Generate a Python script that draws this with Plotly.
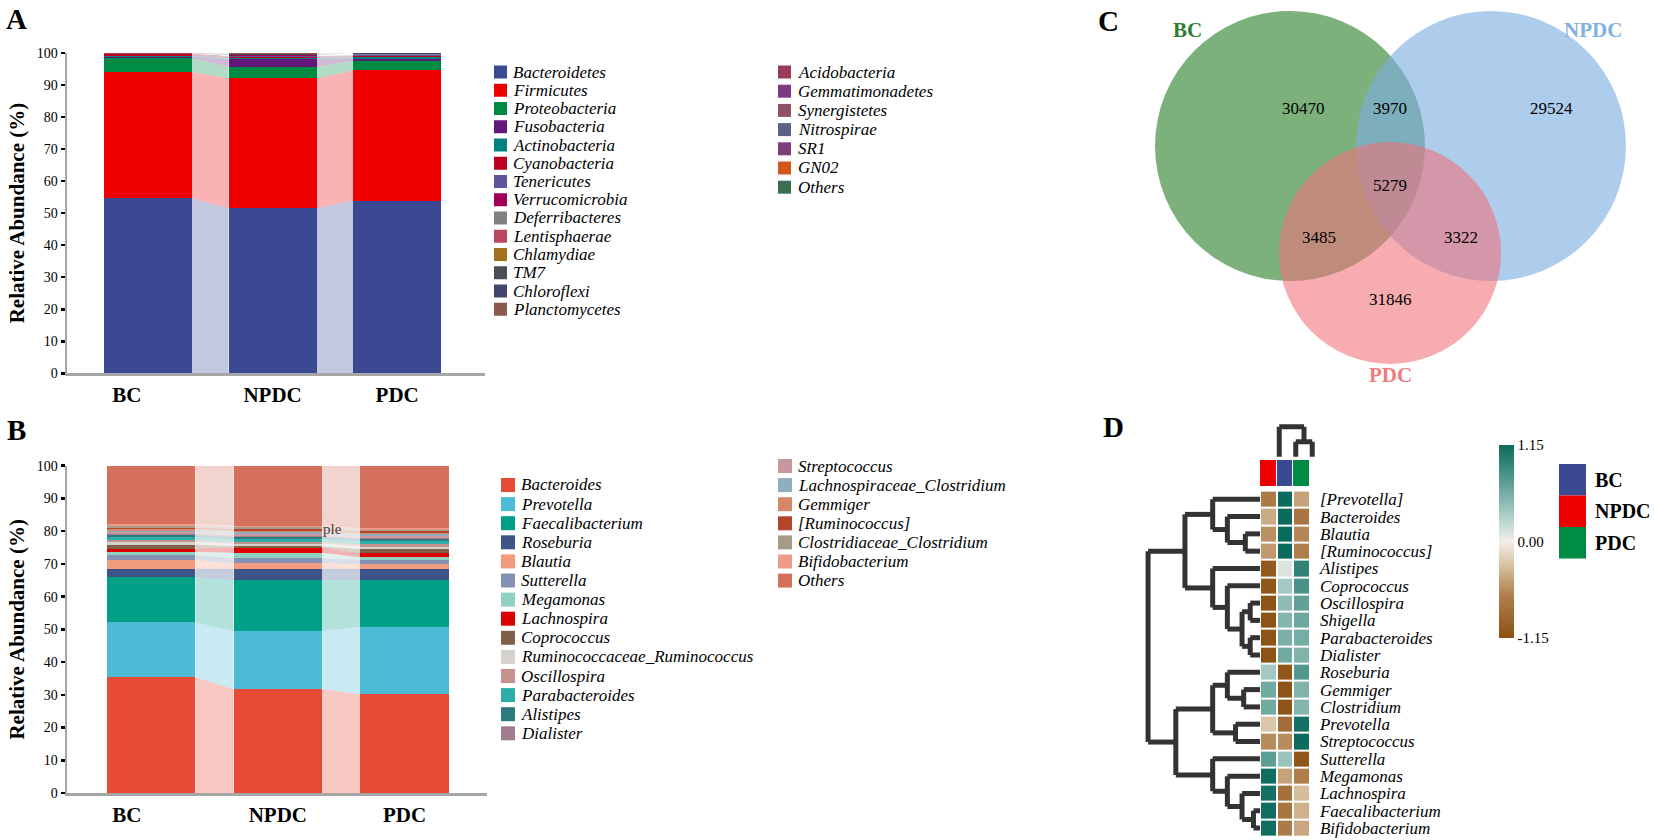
import plotly.graph_objects as go

W, H = 1654, 840
FONT = "Liberation Serif"

groups = ["BC", "NPDC", "PDC"]

# ---------------- Panel A : phylum level ----------------
phyla = ["Bacteroidetes", "Firmicutes", "Proteobacteria", "Fusobacteria", "Actinobacteria",
         "Cyanobacteria", "Tenericutes", "Verrucomicrobia", "Deferribacteres", "Lentisphaerae",
         "Chlamydiae", "TM7", "Chloroflexi", "Planctomycetes", "Acidobacteria",
         "Gemmatimonadetes", "Synergistetes", "Nitrospirae", "SR1", "GN02", "Others"]
phylum_colors = ["#3B4992", "#EE0000", "#008B45", "#631879", "#008280",
                 "#BB0021", "#5F559B", "#A20056", "#808180", "#B9475F",
                 "#A2711E", "#4A4F55", "#42466E", "#8B5A4A", "#9A3B55",
                 "#7C3A80", "#8F5266", "#5C6188", "#7B3F7C", "#D0561E", "#3C6E50"]
phylum_bc = [54.6, 39.4, 4.3, 0.5, 0.3, 0.4, 0.1, 0.1, 0.05, 0.02, 0.02, 0.05, 0.02, 0.02,
             0.02, 0.01, 0.01, 0.01, 0.01, 0.01, 0.05]
phylum_npdc = [51.6, 40.4, 3.6, 2.4, 0.4, 0.3, 0.3, 0.2, 0.1, 0.05, 0.05, 0.3, 0.05, 0.05,
               0.03, 0.02, 0.02, 0.02, 0.02, 0.01, 0.03]
phylum_pdc = [53.9, 40.6, 3.0, 0.7, 0.4, 0.3, 0.3, 0.2, 0.1, 0.05, 0.05, 0.15, 0.05, 0.05,
              0.03, 0.02, 0.02, 0.02, 0.02, 0.01, 0.03]

# ---------------- Panel B : genus level ----------------
genera = ["Bacteroides", "Prevotella", "Faecalibacterium", "Roseburia", "Blautia", "Sutterella",
          "Megamonas", "Lachnospira", "Coprococcus", "Ruminococcaceae_Ruminococcus",
          "Oscillospira", "Parabacteroides", "Alistipes", "Dialister", "Streptococcus",
          "Lachnospiraceae_Clostridium", "Gemmiger", "[Ruminococcus]",
          "Clostridiaceae_Clostridium", "Bifidobacterium", "Others"]
genus_colors = ["#E64B35", "#4DBBD5", "#00A087", "#3C5488", "#F39B7F", "#8491B4",
                "#91D1C2", "#DC0000", "#7E6148", "#D6D2CE", "#C4928C", "#2EADA8",
                "#2D7A80", "#A07C8C", "#C9979E", "#8FAFC1", "#D5886A", "#B3452C",
                "#A89A8A", "#EE9A88", "#D4705C"]
genus_bc = [35.4, 16.7, 13.8, 2.6, 2.7, 1.5, 1.0, 1.0, 1.2, 0.8, 0.5, 1.0, 0.5, 0.4,
            0.5, 0.6, 0.5, 0.4, 0.6, 0.5, 17.8]
genus_npdc = [31.8, 17.7, 15.6, 3.4, 1.7, 1.5, 1.7, 1.6, 0.4, 0.8, 0.5, 1.0, 0.5, 0.4,
              0.5, 0.6, 0.5, 0.4, 0.6, 0.5, 18.3]
genus_pdc = [30.2, 20.6, 14.3, 3.4, 1.5, 1.3, 0.7, 1.2, 1.3, 0.8, 0.7, 1.0, 0.5, 0.4,
             0.5, 0.6, 0.5, 0.4, 0.6, 0.5, 19.0]

# ---------------- Panel C : Venn counts ----------------
venn_sets = ["BC", "NPDC", "PDC"]
venn_set_colors = ["#2F7D32", "#7FB2E0", "#F07C7C"]
venn_regions = ["BC", "BC&NPDC", "NPDC", "BC&NPDC&PDC", "BC&PDC", "NPDC&PDC", "PDC"]
venn_counts = [30470, 3970, 29524, 5279, 3485, 3322, 31846]

# ---------------- Panel D : heatmap ----------------
heat_cols = ["NPDC", "BC", "PDC"]
heat_rows = ["[Prevotella]", "Bacteroides", "Blautia", "[Ruminococcus]", "Alistipes",
             "Coprococcus", "Oscillospira", "Shigella", "Parabacteroides", "Dialister",
             "Roseburia", "Gemmiger", "Clostridium", "Prevotella", "Streptococcus",
             "Sutterella", "Megamonas", "Lachnospira", "Faecalibacterium", "Bifidobacterium"]
heat_npdc = [-0.70, -0.40, -0.55, -0.50, -1.05, -1.10, -1.12, -1.12, -1.12, -1.12,
             0.35, 0.60, 0.60, -0.25, -0.58, 0.70, 1.12, 1.10, 1.12, 1.12]
heat_bc = [1.15, 1.15, 1.15, 1.15, 0.10, 0.35, 0.45, 0.50, 0.55, 0.60,
           -1.10, -1.12, -1.12, -0.85, -0.57, 0.40, -0.45, -0.80, -0.75, -0.70]
heat_pdc = [-0.45, -0.75, -0.60, -0.65, 0.95, 0.80, 0.67, 0.62, 0.57, 0.52,
            0.75, 0.52, 0.50, 1.10, 1.15, -1.10, -0.65, -0.30, -0.37, -0.42]
# row dendrogram merges (leaf ids 0..19, new cluster ids from 20), heights
row_merges = [(2, 3, 45), (1, 20, 100), (0, 21, 145), (6, 7, 30), (8, 9, 30), (23, 24, 55),
              (5, 25, 100), (4, 26, 145), (22, 27, 230), (11, 12, 50), (10, 29, 100),
              (13, 14, 75), (30, 31, 145), (18, 19, 20), (17, 33, 55), (16, 34, 100),
              (15, 35, 145), (32, 36, 258), (28, 37, 343)]
col_merges = [(1, 2, 15), (0, 3, 30)]
heat_col_colors = ["#EE0000", "#3B4992", "#008B45"]
legend_d_names = ["BC", "NPDC", "PDC"]
legend_d_colors = ["#3B4992", "#EE0000", "#008B45"]


def px(x):
    return x / W


def py(y):
    return 1 - y / H


def rgba(hexc, a):
    h = hexc.lstrip("#")
    r, g, b = int(h[0:2], 16), int(h[2:4], 16), int(h[4:6], 16)
    return f"rgba({r},{g},{b},{a})"


fig = go.Figure()
annotations = []
shapes = []


def ann(x, y, text, size, color="black", xanchor="center", yanchor="middle", **kw):
    annotations.append(dict(x=x, y=y, xref=kw.pop("xref", "paper"), yref=kw.pop("yref", "paper"),
                            text=text, showarrow=False, xanchor=xanchor, yanchor=yanchor,
                            font=dict(family=FONT, size=size, color=color), **kw))


def stacked_alluvial(names, colors, series_by_group, xa, ya, bw):
    ngrp = len(series_by_group)
    bottoms = [0.0] * ngrp
    for s, (name, col) in enumerate(zip(names, colors)):
        vals = [series_by_group[g][s] for g in range(ngrp)]
        tops = [bottoms[g] + vals[g] for g in range(ngrp)]
        xs, ys = [], []
        for g in range(ngrp - 1):
            xl, xr = g + bw / 2, g + 1 - bw / 2
            xs += [xl, xr, xr, xl, xl, None]
            ys += [bottoms[g], bottoms[g + 1], tops[g + 1], tops[g], bottoms[g], None]
        fig.add_trace(go.Scatter(x=xs, y=ys, mode="lines", fill="toself",
                                 fillcolor=rgba(col, 0.3), line=dict(width=0),
                                 hoverinfo="skip", xaxis=xa, yaxis=ya, showlegend=False))
        fig.add_trace(go.Bar(x=list(range(ngrp)), y=vals, width=bw, name=name,
                             marker=dict(color=col, line=dict(width=0)),
                             xaxis=xa, yaxis=ya, showlegend=False))
        bottoms = tops


BW_A = 0.706
BW_B = 0.698
stacked_alluvial(phyla, phylum_colors, [phylum_bc, phylum_npdc, phylum_pdc], "x", "y", BW_A)
stacked_alluvial(genera, genus_colors, [genus_bc, genus_npdc, genus_pdc], "x2", "y2", BW_B)


# ---------- custom legends (two columns) ----------
def legend_block(names, colors, split, x_sq, x_txt, y0, dy, x2_sq, x2_txt, y20, dy2, sq):
    for i, (n, c) in enumerate(zip(names, colors)):
        if i < split:
            xs, xt, yc = x_sq, x_txt, y0 + dy * i
        else:
            xs, xt, yc = x2_sq, x2_txt, y20 + dy2 * (i - split)
        shapes.append(dict(type="rect", xref="paper", yref="paper",
                           x0=px(xs), x1=px(xs + sq), y0=py(yc + sq / 2), y1=py(yc - sq / 2),
                           fillcolor=c, line=dict(width=0)))
        ann(px(xt), py(yc), f"<i>{n}</i>", 17, xanchor="left")


legend_block(phyla, phylum_colors, 14, 494, 511, 72, 18.25, 778, 796, 72, 19.2, 13)
legend_block(genera, genus_colors, 14, 501, 519, 485, 19.1, 778, 796, 466, 19.1, 14)

# ---------- axes for A and B ----------
common_x = dict(showline=True, linecolor="#A6A6A6", linewidth=2.5, ticks="outside", ticklen=1,
                tickcolor="rgba(0,0,0,0)", ticktext=[f"<b>{g}</b>" for g in groups],
                tickfont=dict(family=FONT, size=21, color="black"),
                showgrid=False, zeroline=False, automargin=False)
common_y = dict(showline=True, linecolor="#A6A6A6", linewidth=2.5, ticks="outside", ticklen=4,
                tickwidth=2.5, tickcolor="black", range=[0, 100],
                tickvals=list(range(0, 101, 10)),
                tickfont=dict(family=FONT, size=14, color="black"),
                title=dict(text="<b>Relative Abundance (%)</b>",
                           font=dict(family=FONT, size=21, color="black"), standoff=7),
                showgrid=False, zeroline=False, automargin=False)

layout_axes = dict(
    xaxis=dict(common_x, domain=[px(67), px(485)], range=[-0.65, 2.705], anchor="y",
               tickvals=[-0.17, 1, 2]),
    yaxis=dict(common_y, domain=[py(373.4), py(52.75)], anchor="x"),
    xaxis2=dict(common_x, domain=[px(67), px(487)], range=[-0.663, 2.65], anchor="y2",
                tickvals=[-0.19, 1, 2]),
    yaxis2=dict(common_y, domain=[py(793), py(465.7)], anchor="x2"),
)

# "ple" fragment visible in panel B
ann(1.43, 80.6, "ple", 15, color="#4a3b3b", xref="x2", yref="y2")

# ---------- Panel C : Venn ----------
venn_geom = {"BC": (1290, 146, 135), "NPDC": (1491, 146, 135), "PDC": (1390, 253, 111)}
venn_fill = {"BC": "rgba(62,140,62,0.68)", "NPDC": "rgba(125,175,226,0.62)",
             "PDC": "rgba(240,112,120,0.58)"}
for sname in venn_sets:
    cx, cy, r = venn_geom[sname]
    shapes.append(dict(type="circle", xref="paper", yref="paper", x0=px(cx - r), x1=px(cx + r),
                       y0=py(cy + r), y1=py(cy - r), fillcolor=venn_fill[sname],
                       line=dict(width=0), layer="below"))
venn_text_pos = {"BC": (1303, 109), "BC&NPDC": (1390, 109), "NPDC": (1551, 109),
                 "BC&NPDC&PDC": (1390, 185), "BC&PDC": (1319, 237), "NPDC&PDC": (1461, 237),
                 "PDC": (1390, 299)}
for reg, cnt in zip(venn_regions, venn_counts):
    x, y = venn_text_pos[reg]
    ann(px(x), py(y), str(cnt), 17)
venn_label_pos = {"BC": (1187, 30), "NPDC": (1593, 30), "PDC": (1390, 375)}
for sname, col in zip(venn_sets, venn_set_colors):
    x, y = venn_label_pos[sname]
    ann(px(x), py(y), f"<b>{sname}</b>", 21, color=col)

# ---------- Panel D : heatmap ----------
HM_X0, HM_X1 = 1260, 1309.5
HM_Y0, HM_Y1 = 490.6, 836.7
heat_z = [[a, b, c] for a, b, c in zip(heat_npdc, heat_bc, heat_pdc)]
fig.add_trace(go.Heatmap(
    z=heat_z, x=[0, 1, 2], y=list(range(len(heat_rows))), zmin=-1.15, zmax=1.15,
    xgap=2, ygap=2, xaxis="x4", yaxis="y4", hoverinfo="skip",
    colorscale=[[0, "#8C5114"], [0.22, "#B07F4C"], [0.38, "#D9C2A3"], [0.5, "#F2EFE8"],
                [0.62, "#B2D2CB"], [0.8, "#5E9F95"], [1, "#0B6B5D"]],
    colorbar=dict(x=px(1499), xanchor="left", y=py(541.5), yanchor="middle",
                  len=193 / H, lenmode="fraction", thickness=15, thicknessmode="pixels",
                  outlinewidth=0, xpad=0, ypad=0, ticks="",
                  tickvals=[1.15, 0, -1.15], ticktext=["1.15", "0.00", "-1.15"],
                  tickfont=dict(family=FONT, size=15, color="black"))))
fig.add_trace(go.Heatmap(
    z=[[0, 1, 2]], x=[0, 1, 2], y=[0], zmin=0, zmax=2, xgap=1, showscale=False,
    xaxis="x5", yaxis="y5", hoverinfo="skip",
    colorscale=[[0, heat_col_colors[0]], [0.333, heat_col_colors[0]],
                [0.334, heat_col_colors[1]], [0.666, heat_col_colors[1]],
                [0.667, heat_col_colors[2]], [1, heat_col_colors[2]]]))


def dendro_segments(n_leaves, merges, horizontal):
    pos = {i: float(i) for i in range(n_leaves)}
    hgt = {i: 0.0 for i in range(n_leaves)}
    xs, ys = [], []
    for k, (a, b, h) in enumerate(merges):
        nid = n_leaves + k
        for c in (a, b):
            if horizontal:
                xs += [hgt[c], h, None]
                ys += [pos[c], pos[c], None]
            else:
                xs += [pos[c], pos[c], None]
                ys += [hgt[c], h, None]
        if horizontal:
            xs += [h, h, None]
            ys += [pos[a], pos[b], None]
        else:
            xs += [pos[a], pos[b], None]
            ys += [h, h, None]
        pos[nid] = (pos[a] + pos[b]) / 2
        hgt[nid] = h
    return xs, ys


rx, ry = dendro_segments(len(heat_rows), row_merges, True)
fig.add_trace(go.Scatter(x=rx, y=ry, mode="lines", line=dict(color="#333333", width=5),
                         xaxis="x6", yaxis="y6", hoverinfo="skip", showlegend=False))
cx_, cy_ = dendro_segments(3, col_merges, False)
fig.add_trace(go.Scatter(x=cx_, y=cy_, mode="lines", line=dict(color="#333333", width=5),
                         xaxis="x7", yaxis="y7", hoverinfo="skip", showlegend=False))

hidden = dict(visible=False, showgrid=False, zeroline=False, automargin=False)
DSCALE = 93 / 285  # px per height unit
D_LEFT = 1138
layout_axes.update(
    xaxis4=dict(hidden, domain=[px(HM_X0), px(HM_X1)], range=[-0.5, 2.5], anchor="y4"),
    yaxis4=dict(domain=[py(HM_Y1), py(HM_Y0)], range=[len(heat_rows) - 0.5, -0.5],
                anchor="x4", side="right", tickvals=list(range(len(heat_rows))),
                ticktext=[f"<i>{r}</i>" for r in heat_rows], ticks="outside", ticklen=6,
                tickcolor="rgba(0,0,0,0)", showline=False, showgrid=False, zeroline=False,
                tickfont=dict(family=FONT, size=17, color="black"), automargin=False),
    xaxis5=dict(hidden, domain=[px(HM_X0), px(HM_X1)], range=[-0.5, 2.5], anchor="y5"),
    yaxis5=dict(hidden, domain=[py(486), py(460)], range=[-0.5, 0.5], anchor="x5"),
    xaxis6=dict(hidden, domain=[px(D_LEFT), px(1262)],
                range=[(HM_X0 - D_LEFT) / DSCALE, -2 / DSCALE], anchor="y6"),
    yaxis6=dict(hidden, domain=[py(HM_Y1), py(HM_Y0)], range=[len(heat_rows) - 0.5, -0.5],
                anchor="x6"),
    xaxis7=dict(hidden, domain=[px(HM_X0 + 11), px(HM_X1 + 11)], range=[-0.5, 2.5], anchor="y7"),
    yaxis7=dict(hidden, domain=[py(458), py(424)], range=[-1.3, 32.7], anchor="x7"),
)

# legend D
for i, (n, c) in enumerate(zip(legend_d_names, legend_d_colors)):
    y0 = 464 + 31.5 * i
    shapes.append(dict(type="rect", xref="paper", yref="paper", x0=px(1559), x1=px(1586),
                       y0=py(y0 + 31.5), y1=py(y0), fillcolor=c, line=dict(width=0)))
    ann(px(1593), py(y0 + 15.75), f"<b>{n}</b>", 20, xanchor="left")

# panel letters
for letter, (x, y) in zip(["A", "B", "C", "D"], [(16, 19), (16, 430), (1108, 21), (1113, 427)]):
    ann(px(x), py(y), f"<b>{letter}</b>", 29)

fig.update_layout(
    width=W, height=H, margin=dict(l=0, r=0, t=0, b=0), paper_bgcolor="white",
    plot_bgcolor="rgba(0,0,0,0)", barmode="stack", bargap=0, showlegend=False,
    font=dict(family=FONT, color="black"), annotations=annotations, shapes=shapes,
    **layout_axes)

fig.write_html("out.html", config={"displayModeBar": False, "staticPlot": True},
               post_script="document.body.style.margin='0px';document.body.style.overflow='hidden';")
